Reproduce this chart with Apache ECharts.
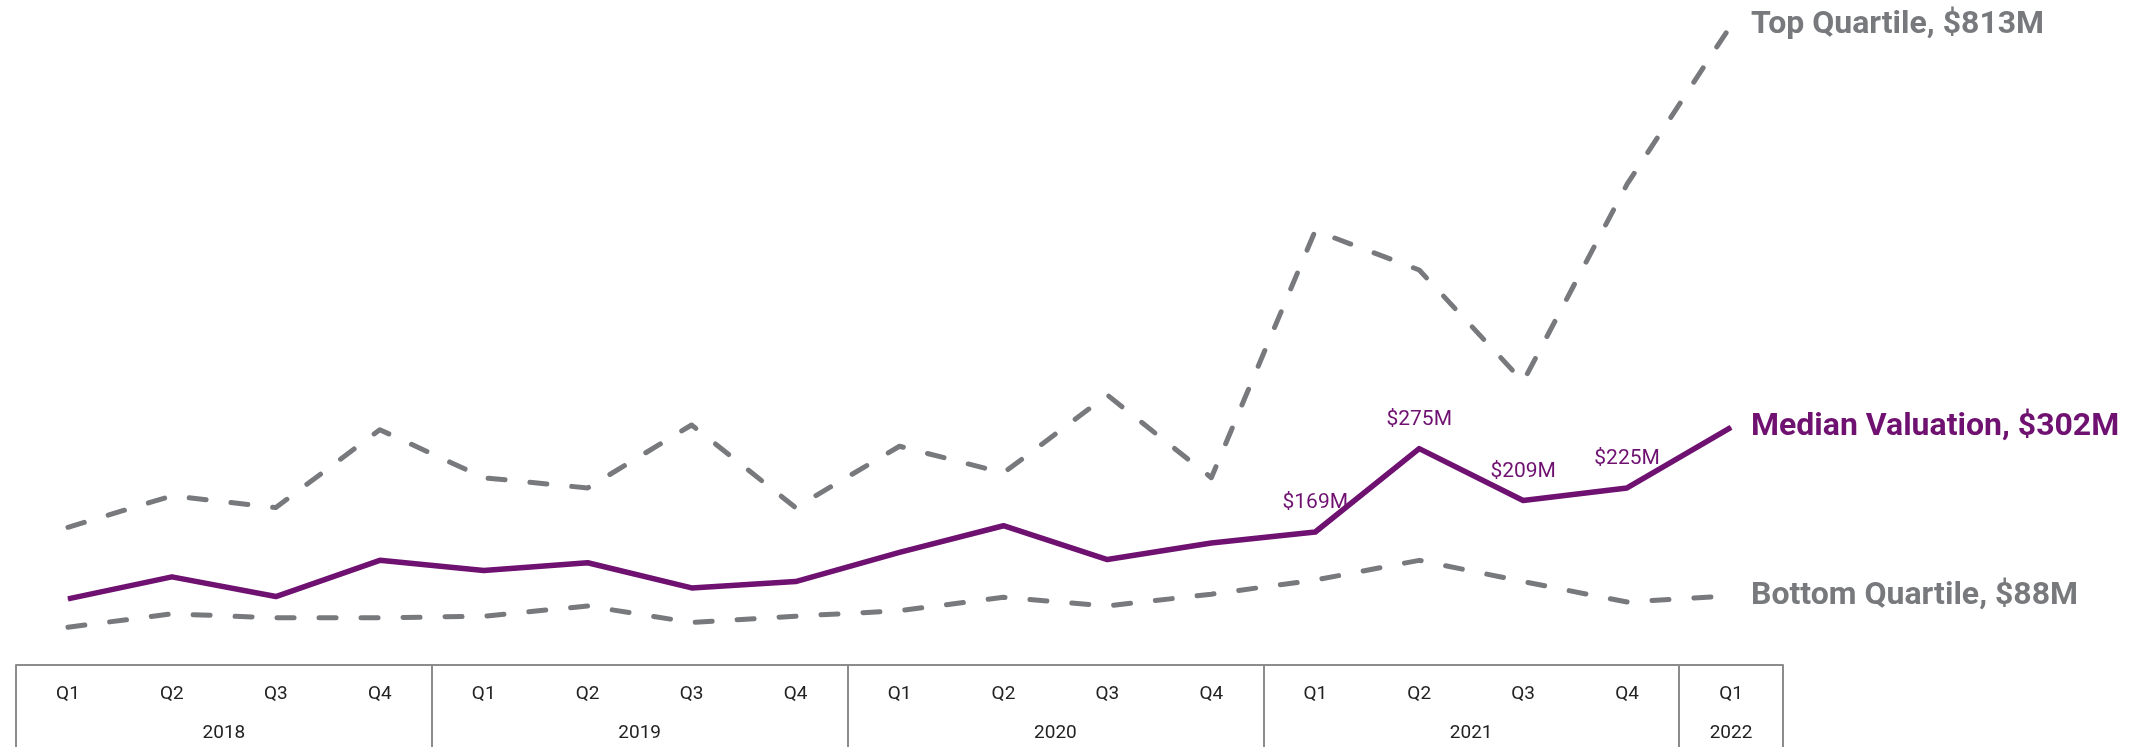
<!DOCTYPE html>
<html>
<head>
<meta charset="utf-8">
<script src="https://cdn.jsdelivr.net/npm/echarts@6/dist/echarts.min.js"></script>
<style>
  html, body { margin: 0; padding: 0; background: #fff; }
  #main { width: 2138px; height: 747px; }
</style>
</head>
<body>
<div id="main"></div>
<script>
// quarters, one per band on the x axis
var quarters = ['Q1','Q2','Q3','Q4','Q1','Q2','Q3','Q4','Q1','Q2','Q3','Q4','Q1','Q2','Q3','Q4','Q1'];
var years = ['2018', '2019', '2020', '2021', '2022'];
var yearSpans = [4, 4, 4, 4, 1];

// valuations in $M
var topQuartile = [175, 215, 200, 299, 238, 225, 305, 200, 278, 244, 343, 238, 552, 502, 360, 611, 813];
var median = [84, 112, 87, 133, 120, 130, 98, 106, 143, 177, 134, 155, 169, 275, 209, 225, 302];
var bottomQuartile = [48, 65, 60, 60, 62, 75, 54, 62, 69, 86, 75, 90, 108, 133, 106, 80, 88];

// only these median points get a value label
var labelledPoints = [12, 13, 14, 15];

var purple = '#6f1170';
var grey = '#77797c';
var boxColor = '#8c8c8c';

// year boundaries and year centres, in quarter units
var yearEdges = [0];
var yearCentres = [];
yearSpans.forEach(function (s, i) {
    yearCentres.push(yearEdges[i] + s / 2);
    yearEdges.push(yearEdges[i] + s);
});

var medianData = median.map(function (v, i) {
    if (labelledPoints.indexOf(i) >= 0) {
        return { value: v, label: { show: true } };
    }
    return v;
});

var option = {
    animation: false,
    grid: { left: 16, right: 355, top: 4, bottom: 82 },
    xAxis: [
        {
            type: 'category',
            position: 'bottom',
            data: quarters,
            boundaryGap: true,
            axisLine: { show: true, onZero: false, lineStyle: { color: boxColor, width: 2 } },
            axisTick: { show: false },
            axisLabel: { color: '#222', fontSize: 19, fontFamily: 'Roboto', margin: 20, interval: 0 },
            splitLine: { show: false }
        },
        {
            type: 'value',
            position: 'bottom',
            min: 0,
            max: yearEdges[yearEdges.length - 1],
            axisLine: { show: false, onZero: false },
            splitLine: { show: false },
            axisTick: {
                show: true,
                customValues: yearEdges,
                length: 90,
                lineStyle: { color: boxColor, width: 2 }
            },
            axisLabel: {
                customValues: yearCentres,
                color: '#222',
                fontSize: 19,
                fontFamily: 'Roboto',
                margin: 59,
                formatter: function (v) {
                    var i = yearCentres.indexOf(v);
                    return i >= 0 ? years[i] : '';
                }
            }
        }
    ],
    yAxis: {
        type: 'value',
        min: 0,
        max: 840,
        show: false,
        splitLine: { show: false }
    },
    series: [
        {
            name: 'Top Quartile',
            type: 'line',
            data: topQuartile,
            symbol: 'none',
            lineStyle: { color: grey, width: 5, type: [17, 25], cap: 'round', join: 'round' },
            endLabel: {
                show: true,
                distance: 20,
                formatter: function (p) { return 'Top Quartile, $' + p.value + 'M'; },
                color: grey,
                fontFamily: 'Roboto',
                fontWeight: 'bold',
                fontSize: 32
            }
        },
        {
            name: 'Bottom Quartile',
            type: 'line',
            data: bottomQuartile,
            symbol: 'none',
            lineStyle: { color: grey, width: 5, type: [17, 25], cap: 'round', join: 'round' },
            endLabel: {
                show: true,
                distance: 20,
                formatter: function (p) { return 'Bottom Quartile, $' + p.value + 'M'; },
                color: grey,
                fontFamily: 'Roboto',
                fontWeight: 'bold',
                fontSize: 32
            }
        },
        {
            name: 'Median Valuation',
            type: 'line',
            data: medianData,
            symbol: 'circle',
            symbolSize: 1,
            showSymbol: true,
            itemStyle: { color: purple },
            z: 5,
            lineStyle: { color: purple, width: 5.5, join: 'round' },
            label: {
                show: false,
                position: 'top',
                distance: 18,
                formatter: '${c}M',
                color: purple,
                fontFamily: 'Roboto',
                fontSize: 21
            },
            endLabel: {
                show: true,
                distance: 20,
                formatter: function (p) { return 'Median Valuation, $' + p.value + 'M'; },
                color: purple,
                fontFamily: 'Roboto',
                fontWeight: 'bold',
                fontSize: 32
            }
        }
    ]
};

var chart = echarts.init(document.getElementById('main'));
chart.setOption(option);
</script>
</body>
</html>
